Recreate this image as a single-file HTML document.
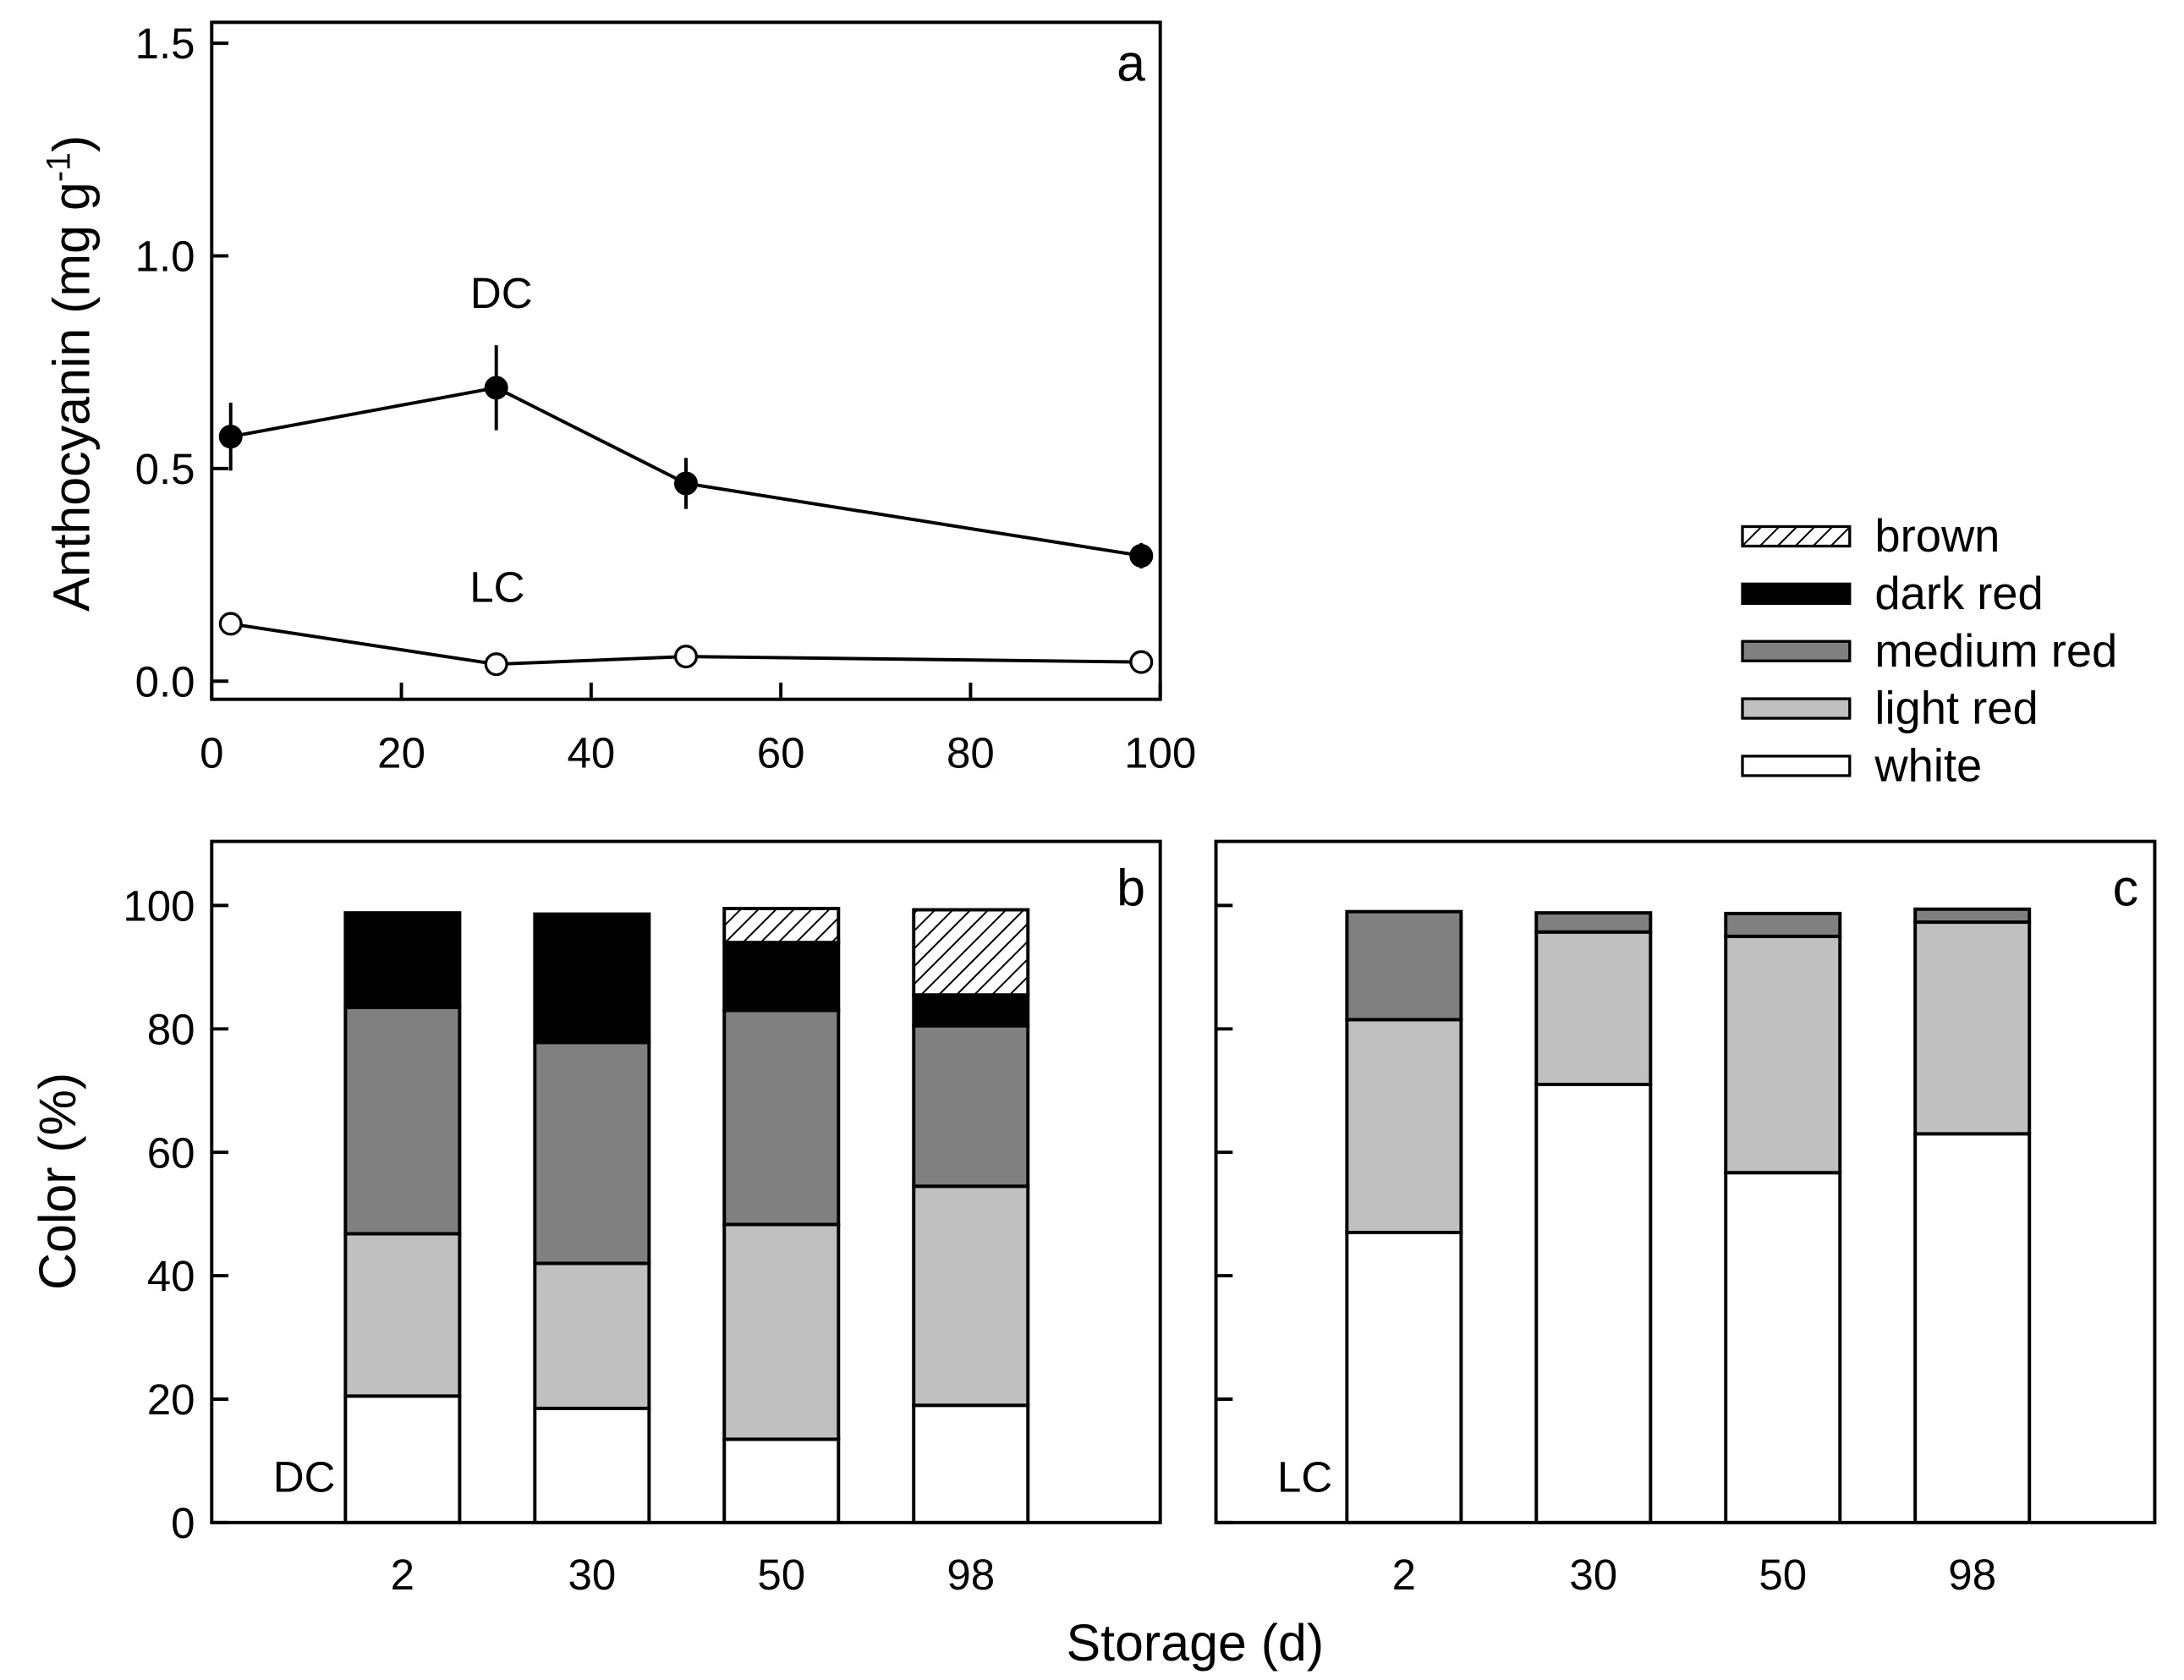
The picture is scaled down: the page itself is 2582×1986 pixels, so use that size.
<!DOCTYPE html>
<html><head><meta charset="utf-8"><style>
html,body{margin:0;padding:0;background:#fff}
svg{display:block;font-family:"Liberation Sans",Arial,sans-serif}
</style></head><body>
<svg id="fig" width="2582" height="1986" viewBox="0 0 1568 1206" xmlns="http://www.w3.org/2000/svg">
<defs>
<pattern id="hatch" patternUnits="userSpaceOnUse" width="9" height="9" patternTransform="rotate(45)">
<rect width="9" height="9" fill="#fff"/><line x1="0" y1="0" x2="0" y2="9" stroke="#000" stroke-width="2.4"/>
</pattern>
</defs>
<g id="root"></g>
</svg>
<script>
const lineX = [2, 30, 50, 98];
const dcVals = [0.575, 0.69, 0.465, 0.295];
const dcErr = [0.08, 0.1, 0.06, 0.03];
const lcVals = [0.135, 0.04, 0.058, 0.045];
const lcErr = [0.01, 0.005, 0.005, 0.005];
const xTicksA = [0, 20, 40, 60, 80, 100];
const yTicksA = [0.0, 0.5, 1.0, 1.5];
const storageCats = ["2", "30", "50", "98"];
const seriesNames = ["white", "light red", "medium red", "dark red", "brown"];
const dcWhite = [20.5, 18.5, 13.5, 19];
const dcLight = [26.3, 23.5, 34.8, 35.5];
const dcMedium = [36.7, 35.8, 34.7, 26];
const dcDark = [15.3, 20.8, 11, 5];
const dcBrown = [0, 0, 5.5, 13.8];
const lcWhite = [47, 71, 56.7, 63];
const lcLight = [34.5, 24.7, 38.3, 34.3];
const lcMedium = [17.5, 3.1, 3.7, 2.1];
const lcDark = [0, 0, 0, 0];
const lcBrown = [0, 0, 0, 0];
const yTicksB = [0, 20, 40, 60, 80, 100];

const NS = "http://www.w3.org/2000/svg";
const root = document.getElementById('root');
function mk(tag, attrs, parent, txt) {
  const e = document.createElementNS(NS, tag);
  for (const k in attrs) e.setAttribute(k, attrs[k]);
  if (txt !== undefined) e.textContent = txt;
  (parent || root).appendChild(e);
  return e;
}
const fills = ["#ffffff", "#c0c0c0", "#808080", "#000000", "url(#hatch)"];
const TK = 31;
const SW = 2.4;

// Panel a
const ax = v => 152 + (v / 100) * 681;
const ay = v => 489 - (v / 1.5) * 458;
const ga = mk('g', {});


const fa = mk('rect', {x:152, y:16, width:681, height:486, fill:'none', stroke:'#000', 'stroke-width':SW}, ga);


xTicksA.forEach(t => {
  const l = mk('line', {x1:ax(t), x2:ax(t), y1:502, y2:490, stroke:'#000', 'stroke-width':SW}, ga);
  
  
  const tx = mk('text', {x:ax(t), y:551, 'font-size':TK, 'text-anchor':'middle'}, ga, String(t));
  
  
});
yTicksA.forEach(t => {
  const l = mk('line', {x1:152, x2:164, y1:ay(t), y2:ay(t), stroke:'#000', 'stroke-width':SW}, ga);
  
  
  const tx = mk('text', {x:140, y:ay(t)+11, 'font-size':TK, 'text-anchor':'end'}, ga, t.toFixed(1));
  
  
});
const yt = mk('text', {x:0, y:0, 'font-size':37, 'text-anchor':'middle', transform:'translate(64,268) rotate(-90)'}, ga);


mk('tspan', {}, yt, 'Anthocyanin (mg g');
mk('tspan', {dy:-14, 'font-size':24}, yt, '-1');
mk('tspan', {dy:14}, yt, ')');
function series(vals, errs, filled, name) {
  const g = mk('g', {}, ga);
  
  
  const pts = vals.map((v, i) => ax(lineX[i]) + ',' + ay(v)).join(' ');
  mk('polyline', {points:pts, fill:'none', stroke:'#000', 'stroke-width':SW}, g);
  vals.forEach((v, i) => {
    mk('line', {x1:ax(lineX[i]), x2:ax(lineX[i]), y1:ay(v+errs[i]), y2:ay(v-errs[i]), stroke:'#000', 'stroke-width':SW}, g);
    const c = mk('circle', {cx:ax(lineX[i]), cy:ay(v), r:7.5, fill:filled?'#000':'#fff', stroke:'#000', 'stroke-width':2}, g);
    
    
  });
}
series(dcVals, dcErr, true, 'dc-series');
series(lcVals, lcErr, false, 'lc-series');
const t1 = mk('text', {x:360, y:221, 'font-size':31, 'text-anchor':'middle'}, ga, 'DC');


const t2 = mk('text', {x:357, y:432, 'font-size':31, 'text-anchor':'middle'}, ga, 'LC');


const t3 = mk('text', {x:812, y:58, 'font-size':37, 'text-anchor':'middle'}, ga, 'a');



// Bar panels
const by = v => 1093 - (v / 100) * 443;
function barPanel(left, right, barStart, stacks, letter, tag, showLabels) {
  const g = mk('g', {});
  
  
  const bx = i => barStart + i * 136;
  stacks[0].forEach((_, i) => {
    let base = 0;
    stacks.forEach((s, k) => {
      const v = s[i];
      if (v <= 0) return;
      const r = mk('rect', {x:bx(i)-41, y:by(base+v), width:82, height:by(base)-by(base+v), fill:fills[k], stroke:'#000', 'stroke-width':SW}, g);
      
      
      base += v;
    });
    const tx = mk('text', {x:bx(i), y:1141, 'font-size':TK, 'text-anchor':'middle'}, g, storageCats[i]);
    
    
  });
  const f = mk('rect', {x:left, y:604, width:right-left, height:489, fill:'none', stroke:'#000', 'stroke-width':SW}, g);
  
  
  yTicksB.forEach(t => {
    const l = mk('line', {x1:left, x2:left+12, y1:by(t), y2:by(t), stroke:'#000', 'stroke-width':SW}, g);
    
    
    if (showLabels) {
      const tx = mk('text', {x:140, y:by(t)+11, 'font-size':TK, 'text-anchor':'end'}, g, String(t));
      
      
    }
  });
  const lt = mk('text', {x:right-21, y:650, 'font-size':37, 'text-anchor':'middle'}, g, letter);
  
  
  const tg = mk('text', {x:left+44, y:1071, 'font-size':31}, g, tag);
  
  
}
barPanel(152, 833, 289, [dcWhite, dcLight, dcMedium, dcDark, dcBrown], 'b', 'DC', true);
barPanel(873, 1547, 1008, [lcWhite, lcLight, lcMedium, lcDark, lcBrown], 'c', 'LC', false);
const ybt = mk('text', {x:0, y:0, 'font-size':37, 'text-anchor':'middle', transform:'translate(54,848) rotate(-90)'}, root, 'Color (%)');


const xbt = mk('text', {x:858, y:1192, 'font-size':37, 'text-anchor':'middle'}, root, 'Storage (d)');



// Legend
const lg = mk('g', {});


[4, 3, 2, 1, 0].forEach((k, j) => {
  const yy = 385 + j * 41.2;
  const e = mk('g', {}, lg);
  
  
  mk('rect', {x:1251, y:yy-7, width:77, height:14, fill:fills[k], stroke:'#000', 'stroke-width':2}, e);
  mk('text', {x:1346, y:yy+11, 'font-size':33}, e, seriesNames[k]);
});
</script>
</body></html>
